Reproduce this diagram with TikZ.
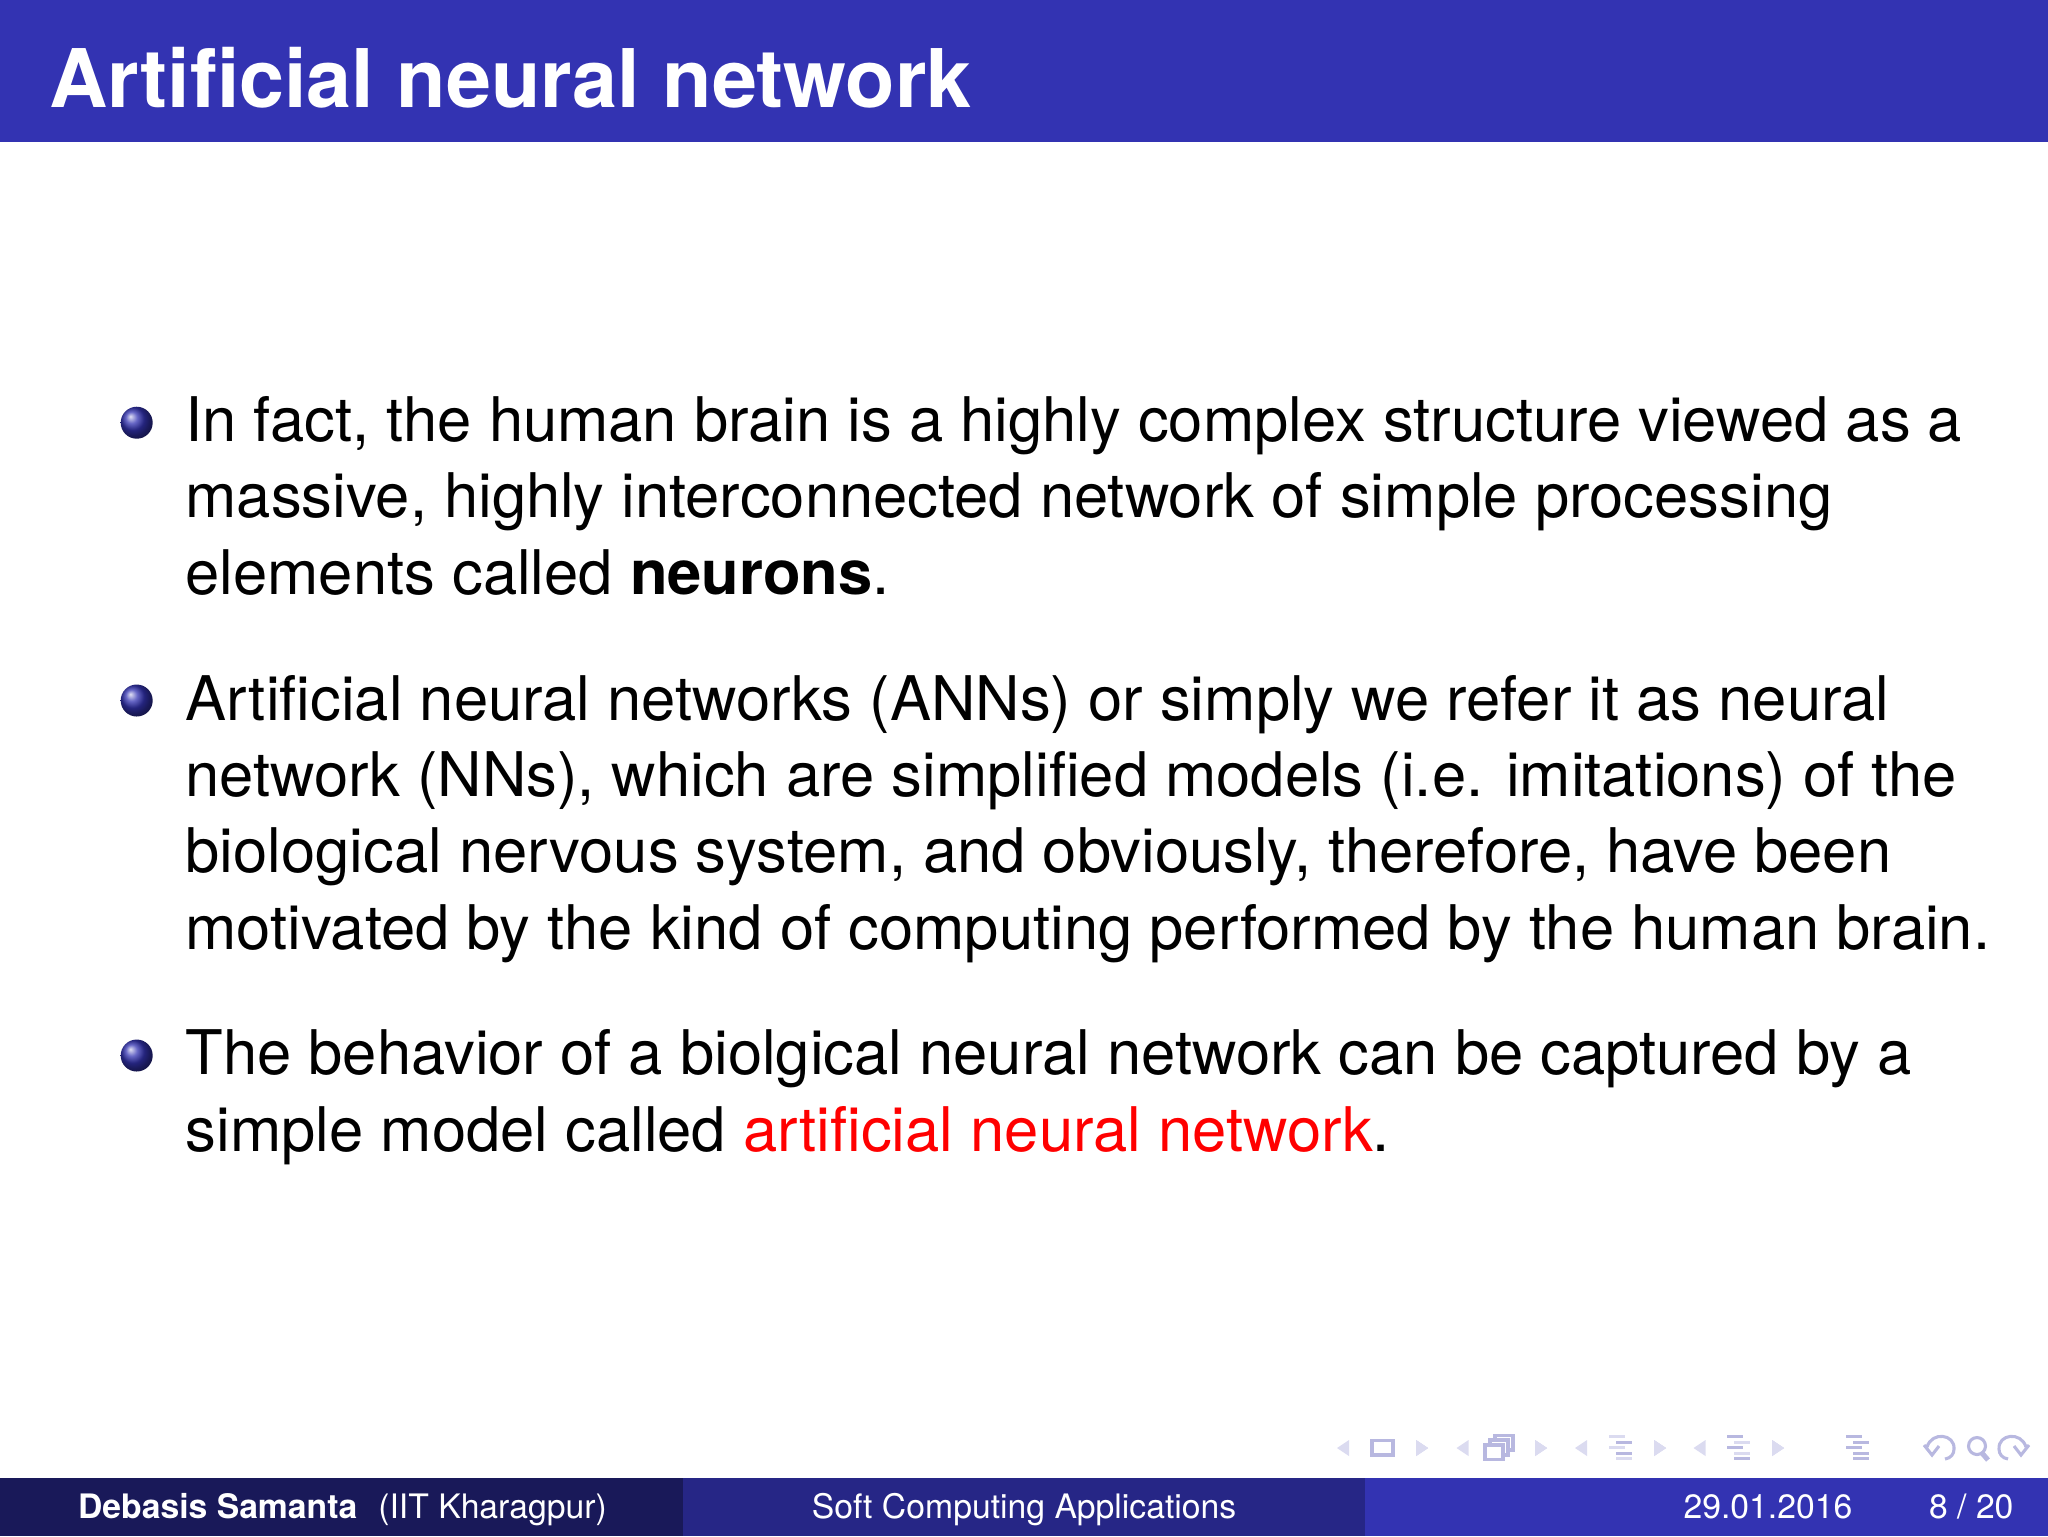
\documentclass[tikz,border=0pt]{standalone}
\usepackage{fontspec}
\setmainfont{TeX Gyre Heros}
\definecolor{barblue}{RGB}{51,51,178}
\definecolor{midblue}{RGB}{38,38,134}
\definecolor{darkblue}{RGB}{25,25,89}
\definecolor{navdark}{RGB}{184,184,224}
\definecolor{navlight}{RGB}{219,219,240}
\tikzstyle{bodytext}=[anchor=base west, inner sep=0pt, align=left, font=\fontsize{10.95}{13.55}\selectfont, text=black]
\tikzstyle{foottext}=[anchor=base, inner sep=0pt, text=white, font=\fontsize{6}{8}\selectfont]
\tikzstyle{bulletball}=[circle, inner sep=0pt, minimum size=32*0.00625cm, shade, ball color=barblue]
\tikzstyle{navtri}=[fill=navlight]
\tikzstyle{navline}=[draw=navdark, line width=0.55pt]
\newcommand{\lefttri}[1]{\fill[navtri] (#1+12,1440) -- (#1,1448) -- (#1+12,1456) -- cycle;}
\newcommand{\righttri}[1]{\fill[navtri] (#1,1440) -- (#1+12,1448) -- (#1,1456) -- cycle;}
% icon of five rows, #2 = shade of the odd rows, #3 = shade of the even rows
\newcommand{\rowicon}[3]{
	\foreach \r/\x/\c in {0/0/#2,1/7/#3,2/0/#2,3/7/#3,4/7/#2}
		\fill[\c] (#1+\x,1435+\r*5.6) rectangle (#1+\x+16,1438+\r*5.6);
}
\begin{document}
\begin{tikzpicture}[x=0.00625cm, y=-0.00625cm]
	\useasboundingbox (0,0) rectangle (2048,1536);
	% Bandeaux
	\fill[barblue] (0,0) rectangle (2048,142);
	\fill[darkblue] (0,1478) rectangle (682.7,1536);
	\fill[midblue] (682.7,1478) rectangle (1365.3,1536);
	\fill[barblue] (1365.3,1478) rectangle (2048,1536);
	\node[anchor=base west, inner sep=0pt, text=white, font=\fontsize{14.4}{18}\selectfont\bfseries] (title) at (48,107) {Artificial neural network};
	% Puces
	\node[bulletball] (b1) at (136.7,422.7) {};
	\node[bulletball] (b2) at (136.7,700.5) {};
	\node[bulletball] (b3) at (136.7,1055.5) {};
	% Texte
	\node[bodytext] (t1) at (184.5,594) {In fact, the human brain is a highly complex structure viewed as a\\massive, highly interconnected network of simple processing\\elements called \textbf{neurons}.};
	\node[bodytext] (t2) at (184.5,949) {Artificial neural networks (ANNs) or simply we refer it as neural\\network (NNs), which are simplified models (i.e. imitations) of the\\biological nervous system, and obviously, therefore, have been\\motivated by the kind of computing performed by the human brain.};
	\node[bodytext] (t3) at (184.5,1151) {The behavior of a biolgical neural network can be captured by a\\simple model called \textcolor{red}{artificial neural network}.};
	% Pied de page
	\node[foottext, anchor=base west] (author) at (77,1518) {\textbf{Debasis Samanta}\hspace{0.62em}(IIT Kharagpur)};
	\node[foottext] (course) at (1024,1518) {Soft Computing Applications};
	\node[foottext, anchor=base west] (date) at (1682.5,1518) {29.01.2016};
	\node[foottext, anchor=base west] (page) at (1928,1518) {8 / 20};
	% Navigation
	\foreach \xa in {1337,1456.5,1575,1693.5} \lefttri{\xa}
	\foreach \xa in {1416,1535,1654,1772} \righttri{\xa}
	\draw[navline] (1372,1440.5) rectangle (1393,1455);
	\draw[navline] (1495,1435.5) rectangle (1513,1450);
	\draw[navline, fill=white] (1490,1440) rectangle (1508,1455);
	\draw[navline, fill=white] (1485,1445) rectangle (1503,1459.5);
	\rowicon{1609}{navlight}{navdark}
	\rowicon{1727}{navdark}{navlight}
	\rowicon{1846}{navdark}{navdark}
	\draw[navline] (1927,1447) .. controls (1932,1431) and (1955,1434) .. (1954,1449) .. controls (1954,1454) and (1951,1458) .. (1945,1459);
	\draw[navline] (1924,1445) -- (1932,1455) -- (1939,1446);
	\draw[navline] (1977,1446) circle (8.5);
	\draw[navline, line width=0.9pt] (1982,1453) -- (1988,1460);
	\draw[navline] (2026,1447) .. controls (2021,1431) and (1998,1434) .. (1999,1449) .. controls (1999,1454) and (2002,1458) .. (2008,1459);
	\draw[navline] (2029,1445) -- (2021,1455) -- (2014,1446);
\end{tikzpicture}
\end{document}
